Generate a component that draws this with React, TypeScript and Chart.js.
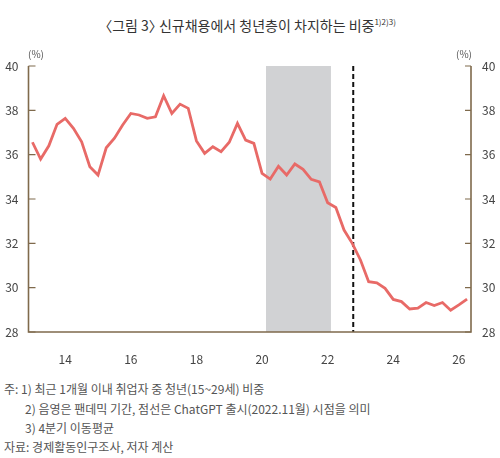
import React, { useEffect, useRef } from "react";
import { Chart, registerables } from "chart.js";

Chart.register(...registerables);

// Quarterly series, starting 2013 Q1 (4-quarter moving average, %)
const START_YEAR = 2013;
const YOUTH_SHARE = [
  36.56, 35.8, 36.4, 37.37, 37.64, 37.19, 36.58, 35.46,
  35.08, 36.31, 36.74, 37.34, 37.86, 37.79, 37.64, 37.71,
  38.66, 37.86, 38.28, 38.09, 36.62, 36.06, 36.36, 36.13,
  36.56, 37.41, 36.66, 36.51, 35.16, 34.9, 35.48, 35.08,
  35.58, 35.34, 34.89, 34.77, 33.83, 33.62, 32.6, 32.0,
  31.25, 30.27, 30.22, 29.97, 29.47, 29.37, 29.04, 29.08,
  29.33, 29.19, 29.33, 28.98, 29.22, 29.48,
];
const X_TICK_YEARS = [2014, 2016, 2018, 2020, 2022, 2024, 2026];
const X_TICK_LABELS = ["14", "16", "18", "20", "22", "24", "26"];
const Y_TICKS = [28, 30, 32, 34, 36, 38, 40];
const PANDEMIC = [2020.12, 2022.1];
const CHATGPT_RELEASE = 2022.78;

const FONT = "'Noto Sans CJK KR', 'Noto Sans', sans-serif";
const AXIS_COLOR = "#7f6a4c";
const LINE_COLOR = "#e86a67";

const decorPlugin = {
  id: "decor",
  beforeDatasetsDraw(chart: any) {
    const { ctx, chartArea } = chart;
    const xs = chart.scales.x;
    const x0 = xs.getPixelForValue(PANDEMIC[0]);
    const x1 = xs.getPixelForValue(PANDEMIC[1]);
    ctx.save();
    ctx.fillStyle = "#d1d2d4";
    ctx.fillRect(x0, chartArea.top, x1 - x0, chartArea.bottom - chartArea.top);
    const xd = xs.getPixelForValue(CHATGPT_RELEASE);
    ctx.strokeStyle = "#111";
    ctx.lineWidth = 2;
    ctx.setLineDash([5, 3]);
    ctx.beginPath();
    ctx.moveTo(xd, chartArea.top);
    ctx.lineTo(xd, chartArea.bottom);
    ctx.stroke();
    ctx.restore();
  },
  afterDatasetsDraw(chart: any) {
    const { ctx, chartArea } = chart;
    const ys = chart.scales.y;
    ctx.save();
    ctx.strokeStyle = AXIS_COLOR;
    ctx.lineWidth = 1.6;
    ctx.beginPath();
    ctx.moveTo(chartArea.left, chartArea.top);
    ctx.lineTo(chartArea.left, chartArea.bottom);
    ctx.lineTo(chartArea.right, chartArea.bottom);
    ctx.lineTo(chartArea.right, chartArea.top);
    ctx.stroke();
    ctx.lineWidth = 1.2;
    for (const v of Y_TICKS) {
      const y = ys.getPixelForValue(v);
      ctx.beginPath();
      ctx.moveTo(chartArea.left, y);
      ctx.lineTo(chartArea.left + 7, y);
      ctx.moveTo(chartArea.right, y);
      ctx.lineTo(chartArea.right - 6, y);
      ctx.stroke();
    }
    ctx.restore();
  },
};

export default function App() {
  const ref = useRef<HTMLCanvasElement>(null);
  useEffect(() => {
    if (!ref.current) return;
    const points = YOUTH_SHARE.map((v, i) => ({ x: START_YEAR + i / 4, y: v }));
    const yCommon = {
      type: "linear" as const,
      min: 28,
      max: 40,
      grid: { display: false, drawTicks: false },
      border: { display: false },
      afterBuildTicks: (s: any) => {
        s.ticks = Y_TICKS.map((v) => ({ value: v }));
      },
    };
    const chart = new Chart(ref.current, {
      type: "line",
      data: {
        datasets: [
          {
            data: points,
            borderColor: LINE_COLOR,
            borderWidth: 2.8,
            pointRadius: 0,
            tension: 0,
            fill: false,
          },
        ],
      },
      options: {
        animation: false,
        responsive: false,
        layout: { padding: { top: 66, left: 0, right: 0, bottom: 0 } },
        plugins: { legend: { display: false }, tooltip: { enabled: false }, title: { display: false } },
        scales: {
          x: {
            type: "linear",
            min: 2012.88,
            max: 2026.37,
            grid: { display: false, drawTicks: false },
            border: { display: false },
            afterBuildTicks: (s: any) => {
              s.ticks = X_TICK_YEARS.map((v) => ({ value: v }));
            },
            afterFit: (s: any) => {
              s.height = 48;
            },
            ticks: {
              padding: 20,
              maxRotation: 0,
              autoSkip: false,
              color: "#444",
              font: { family: FONT, size: 12 },
              callback: (v: any) => X_TICK_LABELS[X_TICK_YEARS.indexOf(Number(v))] ?? "",
            },
          },
          y: {
            ...yCommon,
            position: "left",
            afterFit: (s: any) => {
              s.width = 28.5;
            },
            ticks: { padding: 10, color: "#444", font: { family: FONT, size: 12 } },
          },
          y2: {
            ...yCommon,
            position: "right",
            afterFit: (s: any) => {
              s.width = 29;
            },
            ticks: { padding: 11, color: "#444", font: { family: FONT, size: 12 } },
          },
        },
      },
      plugins: [decorPlugin],
    });
    return () => chart.destroy();
  }, []);

  const note: React.CSSProperties = {
    position: "absolute",
    left: 4,
    fontFamily: FONT,
    fontSize: 12,
    color: "#555",
    whiteSpace: "nowrap",
    lineHeight: "14px",
  };

  return (
    <div style={{ position: "absolute", left: 0, top: 0, width: 500, height: 458, background: "#fff", overflow: "hidden" }}>
      <div
        style={{
          position: "absolute",
          left: 0,
          top: 15,
          width: 500,
          textAlign: "center",
          fontFamily: FONT,
          fontSize: 14,
          color: "#333",
          lineHeight: "20px",
          whiteSpace: "nowrap",
        }}
      >
        <span style={{ marginLeft: -6 }}>〈</span>그림 3<span style={{ marginRight: -7 }}>〉</span> 신규채용에서 청년층이 차지하는 비중
        <sup style={{ fontSize: 8, verticalAlign: "6px", lineHeight: 0 }}>1)2)3)</sup>
      </div>
      <canvas ref={ref} width={500} height={380} style={{ position: "absolute", left: 0, top: 0 }} />
      <div style={{ position: "absolute", left: 28, top: 46, fontFamily: FONT, fontSize: 10, color: "#555" }}>(%)</div>
      <div style={{ position: "absolute", left: 456, top: 46, fontFamily: FONT, fontSize: 10, color: "#555" }}>(%)</div>
      <div style={{ ...note, top: 382 }}>주: 1) 최근 1개월 이내 취업자 중 청년(15~29세) 비중</div>
      <div style={{ ...note, left: 25, top: 402 }}>2) 음영은 팬데믹 기간, 점선은 ChatGPT 출시(2022.11월) 시점을 의미</div>
      <div style={{ ...note, left: 25, top: 421 }}>3) 4분기 이동평균</div>
      <div style={{ ...note, top: 440 }}>자료: 경제활동인구조사, 저자 계산</div>
    </div>
  );
}
